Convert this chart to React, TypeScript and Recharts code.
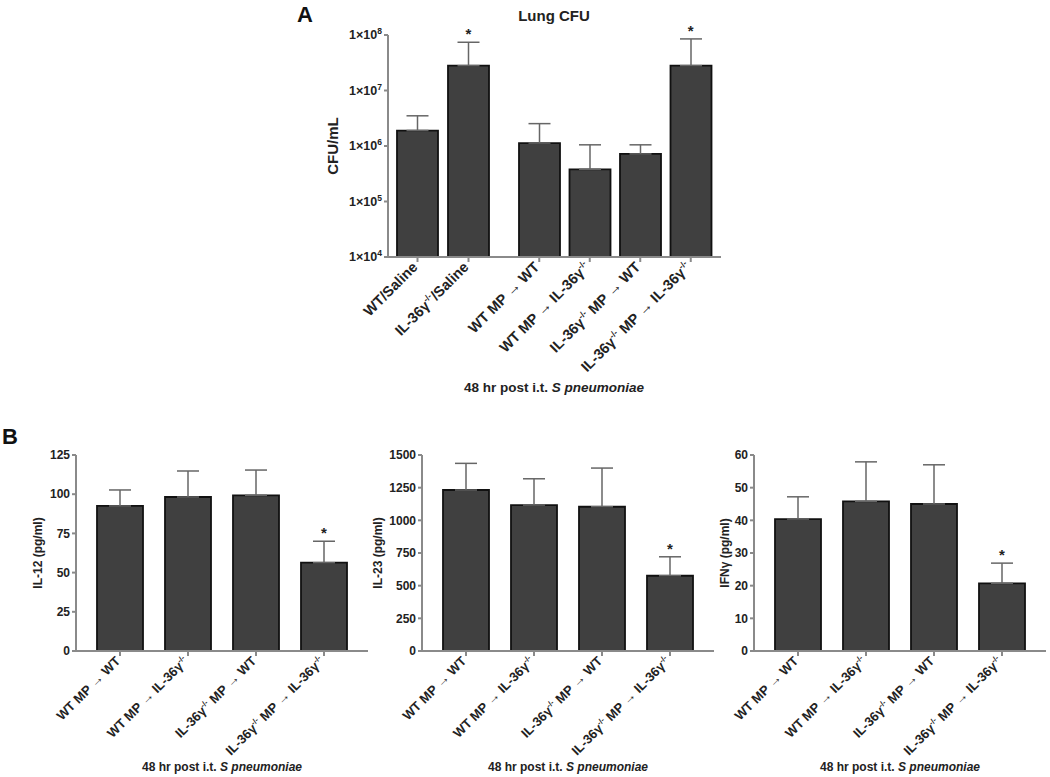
import React from "react";
import { ComposedChart, Bar, XAxis, YAxis, ErrorBar, Line, Label } from "recharts";

// Panel A: lung CFU (log scale), two groups split by a gap
const cfuGroupsLeft = ["WT/Saline", "IL-36γ-/-/Saline"];
const cfuMeansLeft = [1.9e6, 2.8e7];
const cfuErrLeft = [1.6e6, 4.6e7];
const cfuStarLeft = [false, true];

const cfuGroupsRight = ["WT MP → WT", "WT MP → IL-36γ-/-", "IL-36γ-/- MP → WT", "IL-36γ-/- MP → IL-36γ-/-"];
const cfuMeansRight = [1.13e6, 3.8e5, 7.2e5, 2.8e7];
const cfuErrRight = [1.4e6, 6.7e5, 3.3e5, 5.7e7];
const cfuStarRight = [false, false, false, true];
const cfuTicks = [1e4, 1e5, 1e6, 1e7, 1e8];

// Panel B: cytokines
const cytoGroups = ["WT MP → WT", "WT MP → IL-36γ-/-", "IL-36γ-/- MP → WT", "IL-36γ-/- MP → IL-36γ-/-"];
const cytoStar = [false, false, false, true];
const il12Means = [92.5, 98.2, 99.3, 56.3];
const il12Err = [10.2, 16.6, 16.1, 13.7];
const il12Ticks = [0, 25, 50, 75, 100, 125];
const il23Means = [1232, 1117, 1104, 576];
const il23Err = [204, 201, 296, 145];
const il23Ticks = [0, 250, 500, 750, 1000, 1250, 1500];
const ifngMeans = [40.4, 45.8, 45.0, 20.7];
const ifngErr = [6.8, 12.1, 12.0, 6.2];
const ifngTicks = [0, 10, 20, 30, 40, 50, 60];

const FONT = '"Liberation Sans", Arial, sans-serif';
const AXIS = "#8a8a8a";
const TEXT = "#222";

function rows(groups: string[], means: number[], errs: number[], stars: boolean[]) {
  return groups.map((g, i) => ({
    group: g,
    mean: means[i],
    err: [0, errs[i]],
    star: stars[i] ? means[i] + errs[i] : null,
  }));
}

function labelParts(s: string, size: number) {
  const parts = s.split("-/-");
  const out: any[] = [];
  parts.forEach((p, i) => {
    out.push(<tspan key={"t" + i} dy={i === 0 ? 0 : size * 0.4}>{p}</tspan>);
    if (i < parts.length - 1) {
      out.push(<tspan key={"s" + i} dy={-size * 0.4} fontSize={size * 0.6}>-/-</tspan>);
    }
  });
  return out;
}

const slantTick = (size: number) => (props: any) => {
  const { x, y, payload } = props;
  return (
    <g transform={`translate(${x + 1},${y + 4})`}>
      <text transform="rotate(-45)" textAnchor="end" dy={size * 0.35} fontSize={size} fontWeight="bold" fill={TEXT} fontFamily={FONT}>
        {labelParts(String(payload.value), size)}
      </text>
    </g>
  );
};

const PowerTick = (props: any) => {
  const { x, y, payload } = props;
  const exp = Math.round(Math.log10(payload.value));
  return (
    <text x={x} y={y} dy={4} textAnchor="end" fontSize={12.5} fontWeight="bold" fill={TEXT} fontFamily={FONT}>
      1×10<tspan dy={-5} fontSize={8.5}>{exp}</tspan>
    </text>
  );
};

const yTitle = (text: string, dx: number, size: number) => (props: any) => {
  const vb = props.viewBox || {};
  const cx = vb.x + vb.width - dx;
  const cy = vb.y + vb.height / 2;
  return (
    <text x={cx} y={cy} transform={`rotate(-90,${cx},${cy})`} textAnchor="middle" dominantBaseline="central" fontSize={size} fontWeight="bold" fill={TEXT} fontFamily={FONT}>
      {text}
    </text>
  );
};

const StarDot = (p: any) => {
  if (p.payload == null || p.payload.star == null || !isFinite(p.cy)) return <g key={p.key} />;
  return (
    <text key={p.key} x={p.cx} y={p.cy - 3} textAnchor="middle" fontSize={15} fontWeight="bold" fill={TEXT} fontFamily={FONT}>*</text>
  );
};

function XLabel({ left, top, size }: { left: number; top: number; size: number }) {
  return (
    <div style={{ position: "absolute", left: left - 150, top, width: 300, textAlign: "center", fontSize: size, fontWeight: "bold", fontFamily: FONT, color: TEXT, lineHeight: 1 }}>
      48 hr post i.t. <i>S pneumoniae</i>
    </div>
  );
}

function CytoPanel({ left, data, ticks, max, title, titleDx }: any) {
  return (
    <div style={{ position: "absolute", left, top: 440 }}>
      <ComposedChart width={376} height={337} data={data} margin={{ top: 15, right: 8, bottom: 0, left: 0 }}>
        <XAxis dataKey="group" height={126} interval={0} padding={{ left: 10, right: 10 }} stroke={AXIS} strokeWidth={2} tickSize={5} tick={slantTick(13)} />
        <YAxis width={76} domain={[0, max]} ticks={ticks} stroke={AXIS} strokeWidth={2} tickSize={4} tickMargin={2}
          tick={{ fontSize: 12, fontWeight: "bold", fill: TEXT, fontFamily: FONT }}>
          <Label content={yTitle(title, titleDx, 12)} />
        </YAxis>
        <Bar dataKey="mean" barSize={46} fill="#404040" stroke="#111" strokeWidth={1.8} isAnimationActive={false}>
          <ErrorBar dataKey="err" direction="y" width={11} stroke="#666" strokeWidth={1.5} isAnimationActive={false} />
        </Bar>
        <Line dataKey="star" stroke="none" dot={StarDot} activeDot={false} isAnimationActive={false} />
      </ComposedChart>
    </div>
  );
}

export default function App() {
  const leftRows = rows(cfuGroupsLeft, cfuMeansLeft, cfuErrLeft, cfuStarLeft);
  const rightRows = rows(cfuGroupsRight, cfuMeansRight, cfuErrRight, cfuStarRight);
  const il12 = rows(cytoGroups, il12Means, il12Err, cytoStar);
  const il23 = rows(cytoGroups, il23Means, il23Err, cytoStar);
  const ifng = rows(cytoGroups, ifngMeans, ifngErr, cytoStar);

  return (
    <div style={{ position: "absolute", left: 0, top: 0, width: 1050, height: 777, overflow: "hidden", background: "#fff", fontFamily: FONT }}>
      <style>{"svg.recharts-surface { overflow: visible; }"}</style>
      <div style={{ position: "absolute", left: 297, top: 2, fontSize: 22, fontWeight: "bold", color: "#111" }}>A</div>
      <div style={{ position: "absolute", left: 454, top: 7, width: 200, textAlign: "center", fontSize: 15, fontWeight: "bold", color: TEXT }}>Lung CFU</div>

      <div style={{ position: "absolute", left: 300, top: 0 }}>
        <ComposedChart width={194} height={400} data={leftRows} margin={{ top: 35, right: 0, bottom: 0, left: 0 }}>
          <XAxis dataKey="group" height={143} interval={0} padding={{ left: 4, right: 0 }} stroke={AXIS} strokeWidth={2} tickSize={5} tick={slantTick(14.5)} />
          <YAxis width={88} scale="log" domain={[1e4, 1e8]} ticks={cfuTicks} stroke={AXIS} strokeWidth={2} tickSize={4} tickMargin={2} tick={PowerTick}>
            <Label content={yTitle("CFU/mL", 56, 15)} />
          </YAxis>
          <Bar dataKey="mean" barSize={41} fill="#404040" stroke="#111" strokeWidth={1.8} isAnimationActive={false}>
            <ErrorBar dataKey="err" direction="y" width={11} stroke="#666" strokeWidth={1.5} isAnimationActive={false} />
          </Bar>
          <Line dataKey="star" stroke="none" dot={StarDot} activeDot={false} isAnimationActive={false} />
        </ComposedChart>
      </div>
      <div style={{ position: "absolute", left: 494, top: 0 }}>
        <ComposedChart width={236} height={400} data={rightRows} margin={{ top: 35, right: 9, bottom: 0, left: 0 }}>
          <XAxis dataKey="group" height={143} interval={0} padding={{ left: 20, right: 5 }} stroke={AXIS} strokeWidth={2} tickSize={5} tick={slantTick(14.5)} />
          <YAxis hide scale="log" domain={[1e4, 1e8]} ticks={cfuTicks} />
          <Bar dataKey="mean" barSize={41} fill="#404040" stroke="#111" strokeWidth={1.8} isAnimationActive={false}>
            <ErrorBar dataKey="err" direction="y" width={11} stroke="#666" strokeWidth={1.5} isAnimationActive={false} />
          </Bar>
          <Line dataKey="star" stroke="none" dot={StarDot} activeDot={false} isAnimationActive={false} />
        </ComposedChart>
      </div>
      <XLabel left={554} top={381} size={13.5} />

      <div style={{ position: "absolute", left: 2, top: 424, fontSize: 22, fontWeight: "bold", color: "#111" }}>B</div>
      <CytoPanel left={0} data={il12} ticks={il12Ticks} max={125} title="IL-12 (pg/ml)" titleDx={38} />
      <CytoPanel left={346} data={il23} ticks={il23Ticks} max={1500} title="IL-23 (pg/ml)" titleDx={44} />
      <CytoPanel left={678} data={ifng} ticks={ifngTicks} max={60} title="IFNγ (pg/ml)" titleDx={29} />
      <XLabel left={222} top={761} size={12} />
      <XLabel left={568} top={761} size={12} />
      <XLabel left={900} top={761} size={12} />
    </div>
  );
}
